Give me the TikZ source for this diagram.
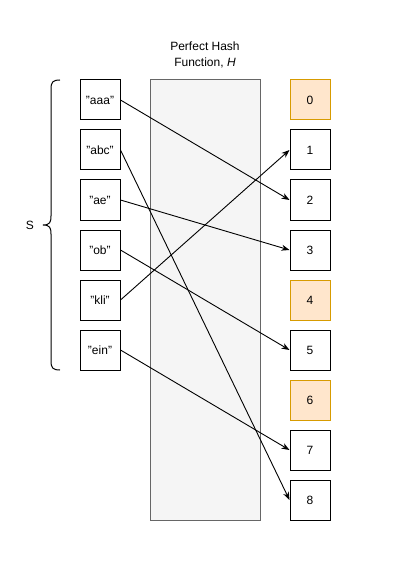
\documentclass[tikz,border=0pt]{standalone}
\usepackage{fontspec}
\setmainfont{Liberation Sans}
\usetikzlibrary{arrows.meta}
\definecolor{midfill}{HTML}{F5F5F5}
\definecolor{midline}{HTML}{666666}
\definecolor{orfill}{HTML}{FFE6CC}
\definecolor{orline}{HTML}{D79B00}
\begin{document}
\begin{tikzpicture}[x=1pt,y=-1pt,
  keybox/.style={draw=black,line width=1pt,fill=white,minimum width=40pt,minimum height=40pt,inner sep=0pt,font=\fontsize{12}{14}\selectfont},
  slotbox/.style={keybox},
  emptyslot/.style={keybox,draw=orline,fill=orfill},
  conn/.style={line width=0.9pt,-{Stealth[length=8pt,width=6pt,inset=2.5pt]}}]
\useasboundingbox (0,0) rectangle (401,561);
\node[draw=midline,fill=midfill,line width=1pt,minimum width=110pt,minimum height=440pt,inner sep=0pt] (hash) at (205,300) {};
\node[align=center,font=\fontsize{12}{16}\selectfont] (title) at (205,55) {Perfect Hash\\Function, \textit{H}};
\node[keybox] (aaa) at (100,100) {"aaa"};
\node[keybox] (abc) at (100,150) {"abc"};
\node[keybox] (ae) at (100,200) {"ae"};
\node[keybox] (ob) at (100,250) {"ob"};
\node[keybox] (kli) at (100,300) {"kli"};
\node[keybox] (ein) at (100,350) {"ein"};
\node[emptyslot] (s0) at (310,100) {0};
\node[slotbox] (s1) at (310,150) {1};
\node[slotbox] (s2) at (310,200) {2};
\node[slotbox] (s3) at (310,250) {3};
\node[emptyslot] (s4) at (310,300) {4};
\node[slotbox] (s5) at (310,350) {5};
\node[emptyslot] (s6) at (310,400) {6};
\node[slotbox] (s7) at (310,450) {7};
\node[slotbox] (s8) at (310,500) {8};
\draw[conn] (aaa.east) -- (s2.west);
\draw[conn] (abc.east) -- (s8.west);
\draw[conn] (ae.east) -- (s3.west);
\draw[conn] (ob.east) -- (s5.west);
\draw[conn] (kli.east) -- (s1.west);
\draw[conn] (ein.east) -- (s7.west);
\node[font=\fontsize{12}{14}\selectfont] (S) at (30,225) {S};
\coordinate (btip) at (43,225);
\draw[line width=1pt] (60,80) .. controls (53,80) and (51,82) .. (51,89) -- (51,216) .. controls (51,222) and (50,225) .. (btip)
  (btip) .. controls (50,225) and (51,228) .. (51,234) -- (51,361) .. controls (51,368) and (53,370) .. (60,370);
\end{tikzpicture}
\end{document}
